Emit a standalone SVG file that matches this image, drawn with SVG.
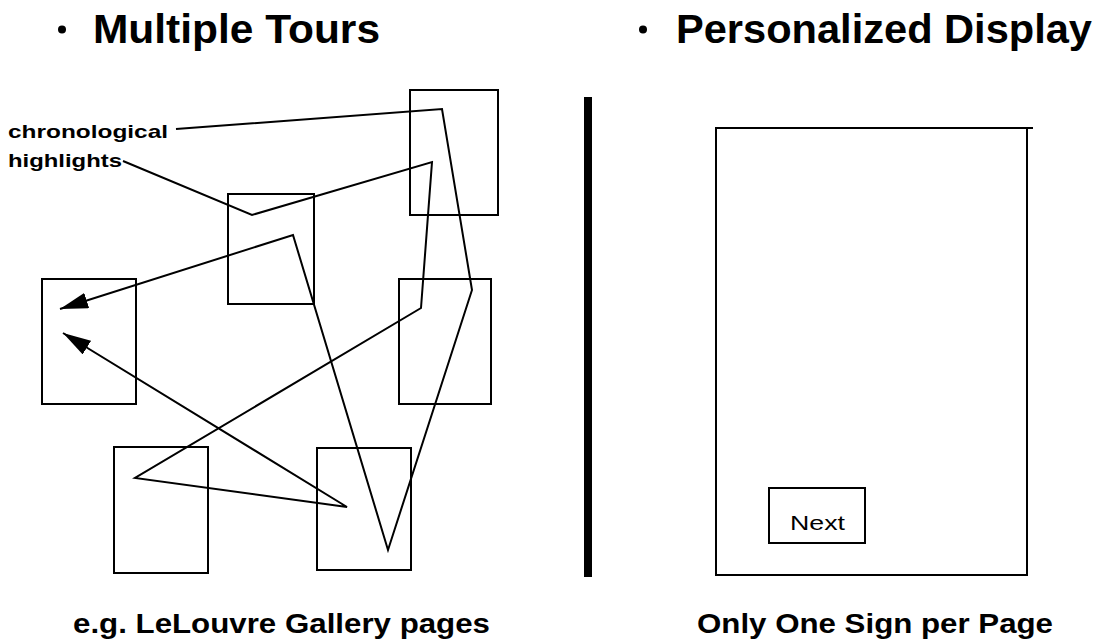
<svg xmlns="http://www.w3.org/2000/svg" width="1099" height="643" viewBox="0 0 1099 643">
<style>
.box{fill:none;stroke:#000;stroke-width:2}
.conn{fill:none;stroke:#000;stroke-width:2;stroke-linejoin:miter}
.title{font-family:"Liberation Sans",Arial,sans-serif;font-weight:bold;font-size:40px;fill:#000}
.cap{font-family:"Liberation Sans",Arial,sans-serif;font-weight:bold;font-size:28px;fill:#000}
.lbl{font-family:"Liberation Sans",Arial,sans-serif;font-weight:bold;font-size:19px;fill:#000}
.btn{font-family:"Liberation Sans",Arial,sans-serif;font-size:21px;fill:#000}
</style>
<defs>
<marker id="arrow" markerUnits="userSpaceOnUse" markerWidth="28" markerHeight="16" viewBox="0 0 28 16" refX="28" refY="8" orient="auto">
<path d="M0,0 L28,8 L0,16 z" fill="#000"/>
</marker>
</defs>
<rect width="1099" height="643" fill="#fff"/>

<g id="titles">
<circle cx="62" cy="29.5" r="4" fill="#000"/>
<text class="title" x="93" y="43" textLength="287" lengthAdjust="spacingAndGlyphs">Multiple Tours</text>
<circle cx="643" cy="29.5" r="4" fill="#000"/>
<text class="title" x="676" y="43" textLength="416" lengthAdjust="spacingAndGlyphs">Personalized Display</text>
</g>

<g id="page-top-right"><rect class="box" x="410" y="90" width="88" height="125"/></g>
<g id="page-middle"><rect class="box" x="228" y="194" width="86" height="110"/></g>
<g id="page-left"><rect class="box" x="42" y="279" width="94" height="125"/></g>
<g id="page-right"><rect class="box" x="399" y="279" width="92" height="125"/></g>
<g id="page-bottom-left"><rect class="box" x="114" y="447" width="94" height="126"/></g>
<g id="page-bottom-right"><rect class="box" x="317" y="448" width="94" height="122"/></g>

<g id="connectors">
<polyline class="conn" points="176,129 442,109 472,290 388,550 293,235 60,309" marker-end="url(#arrow)"/>
<polyline class="conn" points="123,161 252,215 432,162 421,308 135,478 347,507 63,333" marker-end="url(#arrow)"/>
</g>

<g id="tour-labels">
<text class="lbl" x="8" y="138" textLength="160" lengthAdjust="spacingAndGlyphs">chronological</text>
<text class="lbl" x="8" y="167" textLength="114" lengthAdjust="spacingAndGlyphs">highlights</text>
</g>

<g id="divider"><rect x="584" y="97" width="8" height="480" fill="#000"/></g>

<g id="display-page">
<path class="box" d="M1033,128 H716 V575 H1027 V128"/>
</g>

<g id="next-button">
<rect class="box" x="769" y="488" width="96" height="55"/>
<text class="btn" x="790" y="530" textLength="55" lengthAdjust="spacingAndGlyphs">Next</text>
</g>

<g id="captions">
<text class="cap" x="73" y="633" textLength="417" lengthAdjust="spacingAndGlyphs">e.g. LeLouvre Gallery pages</text>
<text class="cap" x="697" y="633" textLength="356" lengthAdjust="spacingAndGlyphs">Only One Sign per Page</text>
</g>
</svg>
